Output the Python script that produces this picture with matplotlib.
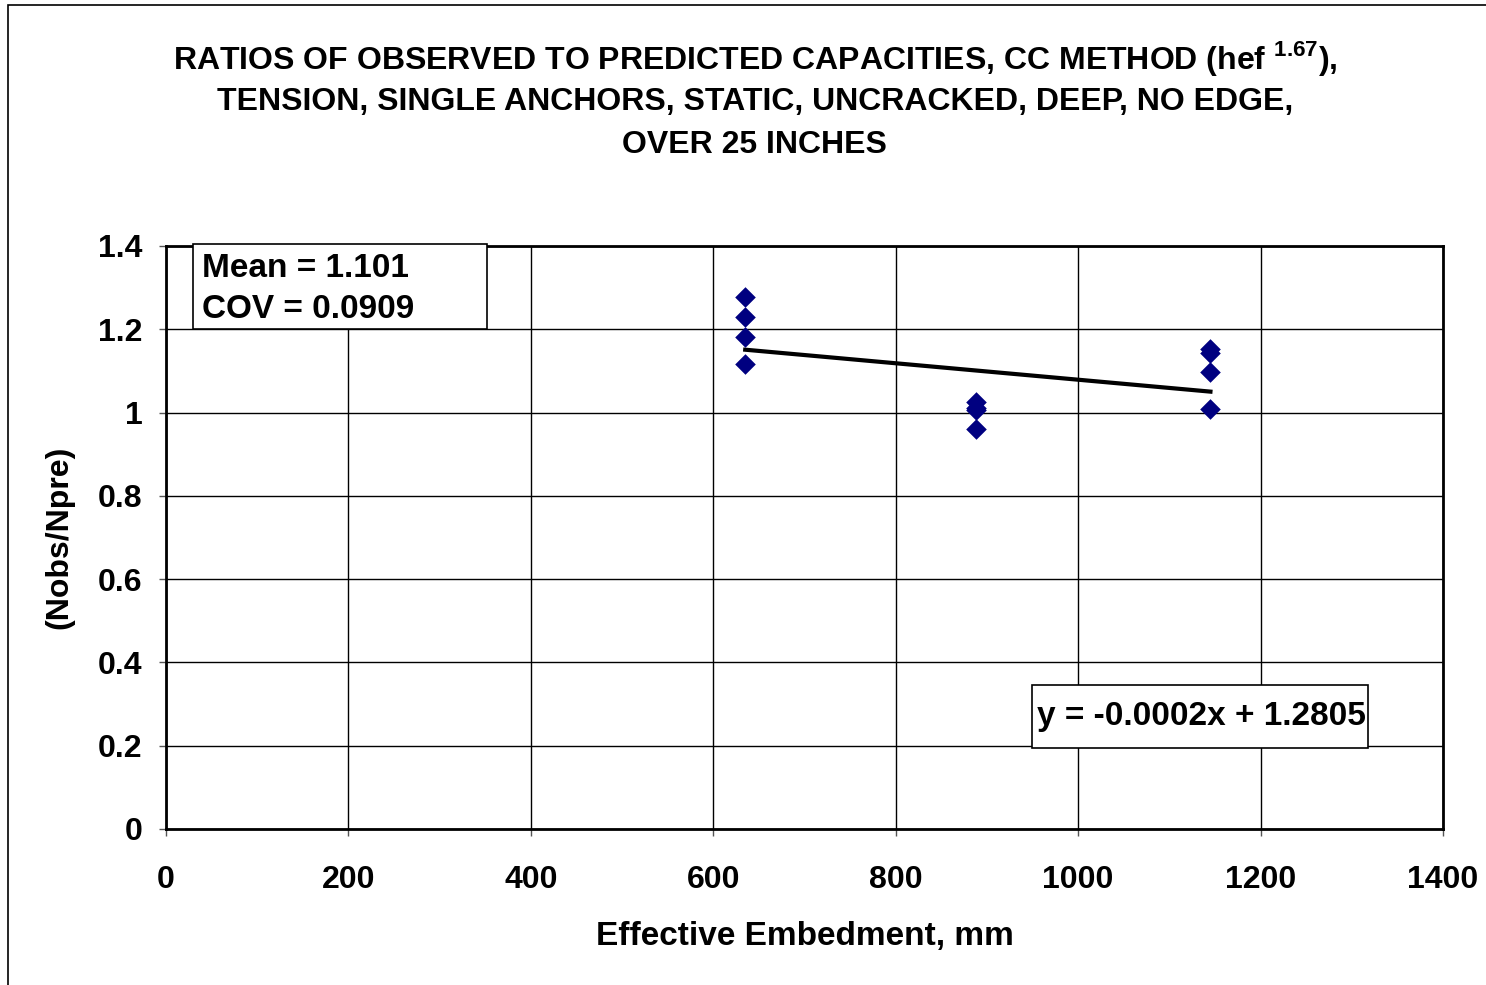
import numpy as np
import matplotlib.pyplot as plt
from matplotlib.patches import Rectangle

plt.rcParams['font.family'] = ['Liberation Sans', 'DejaVu Sans']
plt.rcParams['font.weight'] = 'bold'
plt.rcParams['mathtext.fontset'] = 'custom'
plt.rcParams['mathtext.rm'] = 'Liberation Sans:bold'
plt.rcParams['mathtext.bf'] = 'Liberation Sans:bold'

# embedment (mm) and observed/predicted ratios
hef = [635, 635, 635, 635, 888, 888, 888, 888, 1145, 1145, 1145, 1145]
ratio = [1.278, 1.230, 1.182, 1.116, 1.025, 1.012, 1.005, 0.960,
         1.152, 1.142, 1.098, 1.008]
xticks = [0, 200, 400, 600, 800, 1000, 1200, 1400]
yticks = [0, 0.2, 0.4, 0.6, 0.8, 1.0, 1.2, 1.4]
ytick_labels = ['0', '0.2', '0.4', '0.6', '0.8', '1', '1.2', '1.4']

W, H = 1486, 985
fig = plt.figure(figsize=(W / 100, H / 100), dpi=100)
ax = fig.add_axes([0.1117, 0.1584, 0.8594, 0.5919])


def px_rect(x0, y0, x1, y1, **kw):
    # rectangle given in image pixels (top-left origin)
    r = Rectangle((x0 / W, 1 - y1 / H), (x1 - x0) / W, (y1 - y0) / H,
                  transform=fig.transFigure, **kw)
    fig.patches.append(r)
    return r


# outer chart border
px_rect(8, 5, 1600, 1100, fill=False, edgecolor='black', linewidth=1.2)

ax.scatter(hef, ratio, marker='D', s=110, color='#000080', zorder=3,
           linewidths=0)

# linear trend line
slope, intercept = np.polyfit(hef, ratio, 1)
xs = np.array([min(hef), max(hef)])
ax.plot(xs, slope * xs + intercept, color='black', linewidth=3, zorder=2)

ax.set_xlim(0, 1400)
ax.set_ylim(0, 1.4)
ax.set_xticks(xticks)
ax.set_yticks(yticks)
ax.set_yticklabels(ytick_labels)
ax.grid(True, color='black', linewidth=1)
ax.set_axisbelow(True)
for s in ax.spines.values():
    s.set_linewidth(2)
ax.tick_params(direction='out', length=5, width=1, color='#555555',
               labelsize=23)
ax.tick_params(axis='x', pad=21)
ax.tick_params(axis='y', pad=12)

ax.set_xlabel('Effective Embedment, mm', fontsize=24, fontweight='bold',
              labelpad=19)
ax.set_ylabel('(Nobs/Npre)', fontsize=23, fontweight='bold', labelpad=17)

fig.text(0.508, 0.941, 'RATIOS OF OBSERVED TO PREDICTED CAPACITIES, CC METHOD (hef $^{1.67}$),',
         ha='center', va='center', fontsize=23, fontweight='bold')
fig.text(0.508, 0.896, 'TENSION, SINGLE ANCHORS, STATIC, UNCRACKED, DEEP, NO EDGE,',
         ha='center', va='center', fontsize=23, fontweight='bold')
fig.text(0.508, 0.853, 'OVER 25 INCHES',
         ha='center', va='center', fontsize=23, fontweight='bold')

# statistics box
px_rect(193, 244, 487, 329, facecolor='white', edgecolor='black',
        linewidth=1.2, zorder=4)
fig.text(202 / W, 1 - 289 / H, 'Mean = 1.101\nCOV = 0.0909',
         ha='left', va='center', fontsize=24, fontweight='bold',
         linespacing=1.45, zorder=5)

# trend equation box
px_rect(1032, 685, 1368, 748, facecolor='white', edgecolor='black',
        linewidth=1.2, zorder=4)
fig.text(1201 / W, 1 - 716 / H, 'y = -0.0002x + 1.2805',
         ha='center', va='center', fontsize=24, fontweight='bold', zorder=5)

fig.savefig('out.png', dpi=100)
